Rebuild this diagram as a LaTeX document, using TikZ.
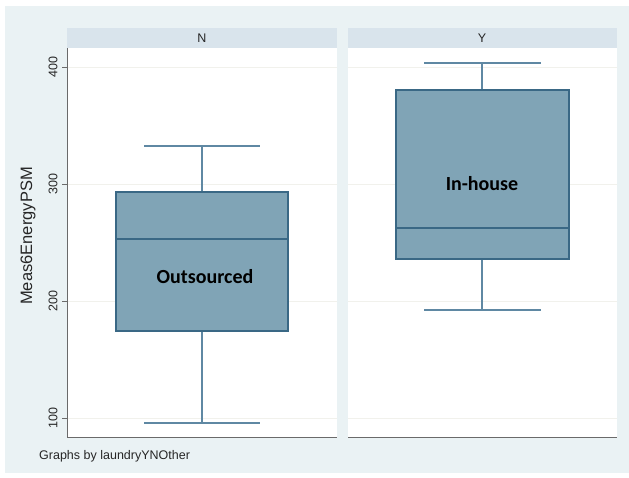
\documentclass[tikz,border=0pt]{standalone}
\usepackage{fontspec}
\setmainfont{Liberation Sans}
\newfontfamily\labfont{Carlito}
\definecolor{bgc}{HTML}{EAF2F4}
\definecolor{hdrc}{HTML}{D9E4EC}
\definecolor{boxc}{HTML}{80A4B6}
\definecolor{edgec}{HTML}{3A6885}
\definecolor{whc}{HTML}{5F88A3}
\definecolor{axc}{HTML}{6A6A6A}
\definecolor{gridc}{HTML}{F1F1EC}
\tikzset{
  whisk/.style={draw=whc, line width=1.4pt},
  boxs/.style={fill=boxc, draw=edgec, line width=1.2pt},
  med/.style={draw=edgec, line width=1.2pt},
  axis/.style={draw=axc, line width=1pt},
  grid/.style={draw=gridc, line width=0.8pt},
  ticklab/.style={font=\fontsize{12.5}{14}\selectfont, text=black!85, rotate=90, inner sep=0pt},
  hdr/.style={font=\fontsize{12.5}{14}\selectfont, text=black!85, inner sep=0pt},
  grouplab/.style={font=\labfont\bfseries\fontsize{20}{22}\selectfont, text=black, inner sep=0pt}
}
\begin{document}
\begin{tikzpicture}[x=1pt,y=-1pt]
\useasboundingbox (0,0) rectangle (629,477);
\fill[white] (0,0) rectangle (629,477);
\fill[bgc] (5,6) rectangle (629,473);
% panels
\fill[white] (67,48) rectangle (337,437);
\fill[white] (348,48) rectangle (617,437);
\fill[hdrc] (67,28) rectangle (337,48);
\fill[hdrc] (348,28) rectangle (617,48);
\node[hdr] (hN) at (202,38) {N};
\node[hdr] (hY) at (482,38) {Y};
% grid lines
\foreach \v in {67,184,301,418}{
  \draw[grid] (68,\v) -- (337,\v);
  \draw[grid] (348,\v) -- (617,\v);
}
% axes
\draw[axis] (67,48) -- (67,437) -- (337,437);
\draw[axis] (348,437) -- (617,437);
\foreach \v/\t in {67/400,184/300,301/200,418/100}{
  \draw[axis, line width=0.6pt] (62,\v) -- (67,\v);
  \node[ticklab] (t\t) at (53,\v) {\t};
}
\node[font=\fontsize{16.5}{18}\selectfont, text=black!85, rotate=90, inner sep=0pt] (ylab) at (28,236) {Meas6EnergyPSM};
\node[font=\fontsize{12.5}{14}\selectfont, text=black!85, inner sep=0pt, anchor=west] (foot) at (39,456) {Graphs by laundryYNOther};
% left box (N)
\draw[whisk] (144,146) -- (260,146);
\draw[whisk] (202,146) -- (202,192);
\draw[whisk] (144,423) -- (260,423);
\draw[whisk] (202,331) -- (202,423);
\draw[boxs] (116,192) rectangle (288,331);
\draw[med] (116,239) -- (288,239);
\node[grouplab] (outs) at (205,277) {Outsourced};
% right box (Y)
\draw[whisk] (424,63) -- (541,63);
\draw[whisk] (482,63) -- (482,90);
\draw[whisk] (424,310) -- (541,310);
\draw[whisk] (482,259) -- (482,310);
\draw[boxs] (396,90) rectangle (569,259);
\draw[med] (396,228) -- (569,228);
\node[grouplab] (inh) at (482,184) {In-house};
\end{tikzpicture}
\end{document}
